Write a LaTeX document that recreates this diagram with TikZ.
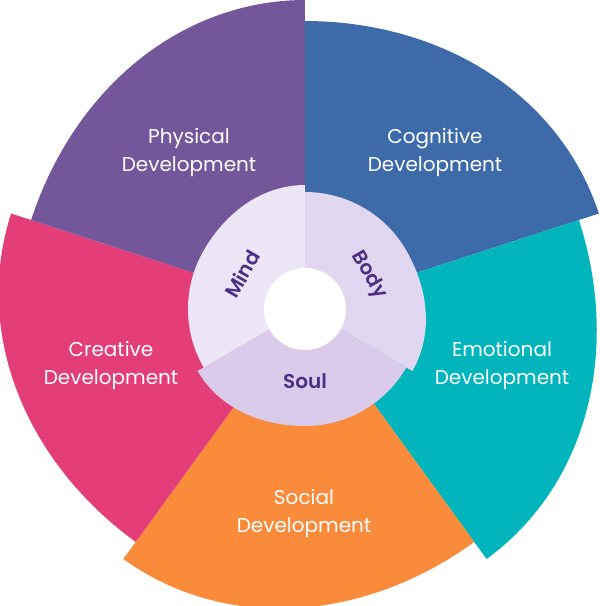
\documentclass[tikz,border=0pt]{standalone}
\usepackage{fontspec}
\setmainfont{Poppins}
\newfontfamily\innerfont{Poppins SemiBold}
\usepackage{tikz}
\usetikzlibrary{calc}
\definecolor{physcol}{HTML}{74569A}
\definecolor{cogcol}{HTML}{3D6BAA}
\definecolor{emocol}{HTML}{00B5BC}
\definecolor{socol}{HTML}{F98B3A}
\definecolor{crecol}{HTML}{E33E77}
\definecolor{mindcol}{HTML}{EDE6F6}
\definecolor{bodycol}{HTML}{E1D6F0}
\definecolor{soulcol}{HTML}{D9CBE9}
\definecolor{inktext}{HTML}{4E2F83}
\tikzset{
  outerlabel/.style={text=white, align=center, font=\fontsize{20}{28}\selectfont},
  innerlabel/.style={text=inktext, font=\fontsize{20}{24}\selectfont\innerfont},
  declare function={ro(\u)=298.5+10.5*cos(2.5*\u); ri(\u)=117+3.5*(1+cos(min(3*\u,180)));}
}

\begin{document}
\begin{tikzpicture}[x=1pt, y=1pt]
  \useasboundingbox (-305,-297) rectangle (295,309);
  \foreach \a/\c in {18/cogcol, -54/emocol, -126/socol, 162/crecol, 90/physcol} {
    \fill[\c] (0,0) -- plot[domain=0:72, samples=50, variable=\u] ({\a+\u}:{ro(\u)}) -- cycle;
  }
  \foreach \a/\c in {-30/bodycol, 210/soulcol, 90/mindcol} {
    \fill[\c] (0,0) -- plot[domain=0:120, samples=50, variable=\u] ({\a+\u}:{ri(\u)}) -- cycle;
  }
  \fill[white] (0,0) circle (41);
  \node[outerlabel] (cognitive) at (130,157) {Cognitive\\Development};
  \node[outerlabel] (physical) at (-116,157) {Physical\\Development};
  \node[outerlabel] (emotional) at (197,-56) {Emotional\\Development};
  \node[outerlabel] (creative) at (-194,-56) {Creative\\Development};
  \node[outerlabel] (social) at (-1,-204) {Social\\Development};
  \node[innerlabel, rotate=-60] (body) at (28:72) {Body};
  \node[innerlabel, rotate=60] (mind) at (151:72) {Mind};
  \node[innerlabel] (soul) at (270:72) {Soul};
\end{tikzpicture}
\end{document}
